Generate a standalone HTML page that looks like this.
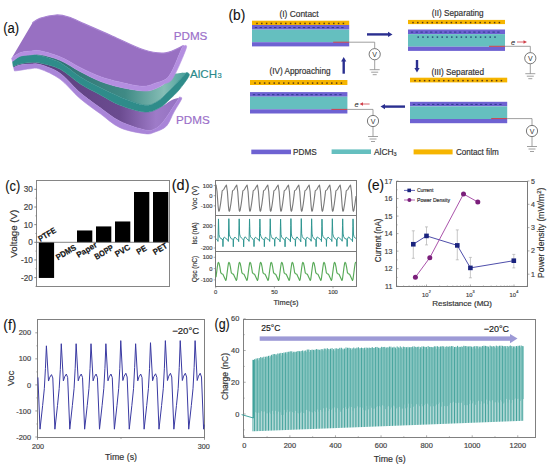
<!DOCTYPE html><html><head><meta charset="utf-8"><style>html,body{margin:0;padding:0;background:#fff;width:550px;height:467px;overflow:hidden}svg{display:block}text{font-family:"Liberation Sans",sans-serif}</style></head><body>
<svg width="550" height="467" viewBox="0 0 550 467">
<rect width="550" height="467" fill="#fff"/>
<defs>
<linearGradient id="tealg" x1="60" y1="0" x2="190" y2="0" gradientUnits="userSpaceOnUse">
<stop offset="0" stop-color="#2f7474"/><stop offset="0.5" stop-color="#3f8a85"/><stop offset="0.8" stop-color="#86beb6"/><stop offset="0.92" stop-color="#5aa8a2"/><stop offset="1" stop-color="#3a9a96"/></linearGradient>
<linearGradient id="botg" x1="40" y1="0" x2="185" y2="0" gradientUnits="userSpaceOnUse">
<stop offset="0" stop-color="#5a3e7c"/><stop offset="0.55" stop-color="#6b4b90"/><stop offset="0.8" stop-color="#9e7bc8"/><stop offset="1" stop-color="#9270c0"/></linearGradient>
</defs>
<path d="M13.20,66.50 C14.33,66.08 17.20,64.65 20.00,64.00 C22.80,63.35 26.67,62.77 30.00,62.60 C33.33,62.43 35.00,61.92 40.00,63.00 C45.00,64.08 53.33,65.63 60.00,69.10 C66.67,72.57 73.33,79.53 80.00,83.80 C86.67,88.07 93.33,91.13 100.00,94.70 C106.67,98.27 112.50,102.32 120.00,105.20 C127.50,108.08 138.33,111.62 145.00,112.00 C151.67,112.38 155.67,109.42 160.00,107.50 C164.33,105.58 167.73,102.15 171.00,100.50 C174.27,98.85 178.17,98.08 179.60,97.60 L179.60,97.60 C179.42,97.80 181.17,94.85 178.50,98.80 C175.83,102.75 167.52,116.30 163.60,121.30 C159.68,126.30 158.10,127.35 155.00,128.80 C151.90,130.25 150.83,131.25 145.00,130.00 C139.17,128.75 127.50,125.03 120.00,121.30 C112.50,117.57 106.67,112.38 100.00,107.60 C93.33,102.82 86.67,98.33 80.00,92.60 C73.33,86.87 66.67,77.88 60.00,73.20 C53.33,68.52 45.00,66.03 40.00,64.50 C35.00,62.97 33.33,63.92 30.00,64.00 C26.67,64.08 22.73,64.42 20.00,65.00 C17.27,65.58 14.67,67.08 13.60,67.50 Z" fill="url(#botg)"/>
<path d="M13.60,67.50 C14.67,67.08 17.27,65.58 20.00,65.00 C22.73,64.42 26.67,64.08 30.00,64.00 C33.33,63.92 35.00,62.97 40.00,64.50 C45.00,66.03 53.33,68.52 60.00,73.20 C66.67,77.88 73.33,86.87 80.00,92.60 C86.67,98.33 93.33,102.82 100.00,107.60 C106.67,112.38 112.50,117.57 120.00,121.30 C127.50,125.03 139.17,128.75 145.00,130.00 C150.83,131.25 151.90,130.25 155.00,128.80 C158.10,127.35 159.68,126.30 163.60,121.30 C167.52,116.30 175.83,102.75 178.50,98.80 C181.17,94.85 179.42,97.80 179.60,97.60 L179.60,97.60 C179.93,97.83 182.53,96.60 181.60,99.00 C180.67,101.40 176.52,107.50 174.00,112.00 C171.48,116.50 169.67,122.67 166.50,126.00 C163.33,129.33 158.58,130.72 155.00,132.00 C151.42,133.28 150.83,134.42 145.00,133.70 C139.17,132.98 127.50,131.07 120.00,127.70 C112.50,124.33 106.67,118.37 100.00,113.50 C93.33,108.63 86.67,104.23 80.00,98.50 C73.33,92.77 66.67,84.02 60.00,79.10 C53.33,74.18 45.00,70.72 40.00,69.00 C35.00,67.28 33.33,68.58 30.00,68.80 C26.67,69.02 22.58,69.93 20.00,70.30 C17.42,70.67 15.42,70.88 14.50,71.00 Z" fill="#a985d8" stroke="#a985d8" stroke-width="0.6" stroke-linejoin="round"/>
<path d="M12.50,61.50 C13.75,60.63 17.08,57.40 20.00,56.30 C22.92,55.20 26.67,55.18 30.00,54.90 C33.33,54.62 35.00,53.70 40.00,54.60 C45.00,55.50 53.33,57.48 60.00,60.30 C66.67,63.12 73.33,68.02 80.00,71.50 C86.67,74.98 93.33,78.58 100.00,81.20 C106.67,83.82 112.50,85.57 120.00,87.20 C127.50,88.83 138.83,90.87 145.00,91.00 C151.17,91.13 153.83,89.17 157.00,88.00 C160.17,86.83 162.00,85.67 164.00,84.00 C166.00,82.33 167.00,79.73 169.00,78.00 C171.00,76.27 172.97,74.53 176.00,73.60 C179.03,72.67 185.33,72.60 187.20,72.40 L187.20,72.40 C186.92,72.62 187.53,71.60 185.50,73.70 C183.47,75.80 178.25,81.62 175.00,85.00 C171.75,88.38 168.83,91.33 166.00,94.00 C163.17,96.67 161.50,99.13 158.00,101.00 C154.50,102.87 151.33,105.88 145.00,105.20 C138.67,104.52 127.50,99.83 120.00,96.90 C112.50,93.97 106.67,90.95 100.00,87.60 C93.33,84.25 86.67,80.97 80.00,76.80 C73.33,72.63 66.67,66.15 60.00,62.60 C53.33,59.05 45.00,56.78 40.00,55.50 C35.00,54.22 33.33,54.77 30.00,54.90 C26.67,55.03 22.92,55.20 20.00,56.30 C17.08,57.40 13.75,60.63 12.50,61.50 Z" fill="url(#tealg)"/>
<path d="M12.50,61.50 C13.75,60.63 17.08,57.40 20.00,56.30 C22.92,55.20 26.67,55.03 30.00,54.90 C33.33,54.77 35.00,54.22 40.00,55.50 C45.00,56.78 53.33,59.05 60.00,62.60 C66.67,66.15 73.33,72.63 80.00,76.80 C86.67,80.97 93.33,84.25 100.00,87.60 C106.67,90.95 112.50,93.97 120.00,96.90 C127.50,99.83 138.67,104.52 145.00,105.20 C151.33,105.88 154.50,102.87 158.00,101.00 C161.50,99.13 163.17,96.67 166.00,94.00 C168.83,91.33 171.75,88.38 175.00,85.00 C178.25,81.62 183.47,75.80 185.50,73.70 C187.53,71.60 186.92,72.62 187.20,72.40 L187.20,72.40 C187.50,73.00 190.37,73.07 189.00,76.00 C187.63,78.93 182.17,86.17 179.00,90.00 C175.83,93.83 173.17,96.08 170.00,99.00 C166.83,101.92 164.17,105.33 160.00,107.50 C155.83,109.67 151.67,112.38 145.00,112.00 C138.33,111.62 127.50,108.08 120.00,105.20 C112.50,102.32 106.67,98.27 100.00,94.70 C93.33,91.13 86.67,88.07 80.00,83.80 C73.33,79.53 66.67,72.57 60.00,69.10 C53.33,65.63 45.00,64.08 40.00,63.00 C35.00,61.92 33.33,62.43 30.00,62.60 C26.67,62.77 22.80,63.35 20.00,64.00 C17.20,64.65 14.33,66.08 13.20,66.50 Z" fill="#2f8c8a" stroke="#2f8c8a" stroke-width="0.6" stroke-linejoin="round"/>
<path d="M32.40,23.00 C33.67,22.22 36.07,19.63 40.00,18.30 C43.93,16.97 51.23,15.22 56.00,15.00 C60.77,14.78 63.77,15.48 68.60,17.00 C73.43,18.52 77.65,20.90 85.00,24.10 C92.35,27.30 102.93,31.92 112.70,36.20 C122.47,40.48 134.83,47.02 143.60,49.80 C152.37,52.58 158.63,53.60 165.30,52.90 C171.97,52.20 180.55,46.82 183.60,45.60 L183.40,46.00 C183.12,46.42 184.10,43.50 181.70,48.50 C179.30,53.50 173.45,70.22 169.00,76.00 C164.55,81.78 159.50,81.48 155.00,83.20 C150.50,84.92 147.83,86.48 142.00,86.30 C136.17,86.12 127.00,83.73 120.00,82.10 C113.00,80.47 106.67,78.95 100.00,76.50 C93.33,74.05 86.67,70.68 80.00,67.40 C73.33,64.12 66.67,59.57 60.00,56.80 C53.33,54.03 45.00,51.75 40.00,50.80 C35.00,49.85 33.33,50.77 30.00,51.10 C26.67,51.43 23.07,51.62 20.00,52.80 C16.93,53.98 13.00,57.30 11.60,58.20 Z" fill="#9870c2"/>
<path d="M32.40,23.00 C33.67,22.22 36.07,19.63 40.00,18.30 C43.93,16.97 51.23,15.22 56.00,15.00 C60.77,14.78 63.77,15.48 68.60,17.00 C73.43,18.52 77.65,20.90 85.00,24.10 C92.35,27.30 102.93,31.92 112.70,36.20 C122.47,40.48 134.83,47.02 143.60,49.80 C152.37,52.58 158.63,53.60 165.30,52.90 C171.97,52.20 180.55,46.82 183.60,45.60" fill="none" stroke="#a883d2" stroke-width="1.2"/>
<path d="M11.60,58.20 C13.00,57.30 16.93,53.98 20.00,52.80 C23.07,51.62 26.67,51.43 30.00,51.10 C33.33,50.77 35.00,49.85 40.00,50.80 C45.00,51.75 53.33,54.03 60.00,56.80 C66.67,59.57 73.33,64.12 80.00,67.40 C86.67,70.68 93.33,74.05 100.00,76.50 C106.67,78.95 113.00,80.47 120.00,82.10 C127.00,83.73 136.17,86.12 142.00,86.30 C147.83,86.48 150.50,84.92 155.00,83.20 C159.50,81.48 164.55,81.78 169.00,76.00 C173.45,70.22 179.30,53.50 181.70,48.50 C184.10,43.50 183.12,46.42 183.40,46.00 L183.40,46.00 C183.87,46.42 187.93,43.17 186.20,48.50 C184.47,53.83 176.70,72.08 173.00,78.00 C169.30,83.92 166.67,82.33 164.00,84.00 C161.33,85.67 160.17,86.83 157.00,88.00 C153.83,89.17 151.17,91.13 145.00,91.00 C138.83,90.87 127.50,88.83 120.00,87.20 C112.50,85.57 106.67,83.82 100.00,81.20 C93.33,78.58 86.67,74.98 80.00,71.50 C73.33,68.02 66.67,63.12 60.00,60.30 C53.33,57.48 45.00,55.50 40.00,54.60 C35.00,53.70 33.33,54.62 30.00,54.90 C26.67,55.18 22.92,55.20 20.00,56.30 C17.08,57.40 13.75,60.63 12.50,61.50 Z" fill="#b48ee0" stroke="#b48ee0" stroke-width="0.6" stroke-linejoin="round"/>
<text x="173.7" y="40.4" font-size="11.6" fill="#9b6fc9" text-anchor="start" font-weight="normal" stroke="#9b6fc9" stroke-width="0.18" textLength="33.7" lengthAdjust="spacingAndGlyphs" >PDMS</text>
<text x="190" y="77.7" font-size="11.6" fill="#2b8a8a" text-anchor="start" font-weight="normal" stroke="#2b8a8a" stroke-width="0.18" textLength="27" lengthAdjust="spacingAndGlyphs" >AlCH</text>
<text x="217.5" y="78" font-size="7.5" fill="#2b8a8a" text-anchor="start" font-weight="normal" stroke="#2b8a8a" stroke-width="0.18" >3</text>
<text x="176" y="124" font-size="11.6" fill="#9b6fc9" text-anchor="start" font-weight="normal" stroke="#9b6fc9" stroke-width="0.18" textLength="33.7" lengthAdjust="spacingAndGlyphs" >PDMS</text>
<text x="3.2" y="32.8" font-size="15.2" fill="#111" text-anchor="start" font-weight="normal" textLength="16" lengthAdjust="spacingAndGlyphs" stroke="#111" stroke-width="0.12">(a)</text>
<text x="228.5" y="20.1" font-size="15.2" fill="#111" text-anchor="start" font-weight="normal" textLength="16.8" lengthAdjust="spacingAndGlyphs" stroke="#111" stroke-width="0.12">(b)</text>
<rect x="252" y="20.7" width="97.19999999999999" height="4.3" fill="#f6b500"/>
<rect x="256.25" y="22.70" width="1.5" height="1.5" fill="#5a3a12"/>
<rect x="261.05" y="22.70" width="1.5" height="1.5" fill="#5a3a12"/>
<rect x="265.85" y="22.70" width="1.5" height="1.5" fill="#5a3a12"/>
<rect x="270.65" y="22.70" width="1.5" height="1.5" fill="#5a3a12"/>
<rect x="275.45" y="22.70" width="1.5" height="1.5" fill="#5a3a12"/>
<rect x="280.25" y="22.70" width="1.5" height="1.5" fill="#5a3a12"/>
<rect x="285.05" y="22.70" width="1.5" height="1.5" fill="#5a3a12"/>
<rect x="289.85" y="22.70" width="1.5" height="1.5" fill="#5a3a12"/>
<rect x="294.65" y="22.70" width="1.5" height="1.5" fill="#5a3a12"/>
<rect x="299.45" y="22.70" width="1.5" height="1.5" fill="#5a3a12"/>
<rect x="304.25" y="22.70" width="1.5" height="1.5" fill="#5a3a12"/>
<rect x="309.05" y="22.70" width="1.5" height="1.5" fill="#5a3a12"/>
<rect x="313.85" y="22.70" width="1.5" height="1.5" fill="#5a3a12"/>
<rect x="318.65" y="22.70" width="1.5" height="1.5" fill="#5a3a12"/>
<rect x="323.45" y="22.70" width="1.5" height="1.5" fill="#5a3a12"/>
<rect x="328.25" y="22.70" width="1.5" height="1.5" fill="#5a3a12"/>
<rect x="333.05" y="22.70" width="1.5" height="1.5" fill="#5a3a12"/>
<rect x="337.85" y="22.70" width="1.5" height="1.5" fill="#5a3a12"/>
<rect x="342.65" y="22.70" width="1.5" height="1.5" fill="#5a3a12"/>
<rect x="252" y="25.0" width="97.19999999999999" height="4.6" fill="#6e62d2"/>
<rect x="252" y="29.6" width="97.19999999999999" height="12.6" fill="#65bfbf"/>
<rect x="252" y="42.2" width="97.19999999999999" height="4.2" fill="#6e62d2"/>
<rect x="254.80" y="27.10" width="2.4" height="1.0" fill="#2b3a8c"/>
<rect x="259.60" y="27.10" width="2.4" height="1.0" fill="#2b3a8c"/>
<rect x="264.40" y="27.10" width="2.4" height="1.0" fill="#2b3a8c"/>
<rect x="269.20" y="27.10" width="2.4" height="1.0" fill="#2b3a8c"/>
<rect x="274.00" y="27.10" width="2.4" height="1.0" fill="#2b3a8c"/>
<rect x="278.80" y="27.10" width="2.4" height="1.0" fill="#2b3a8c"/>
<rect x="283.60" y="27.10" width="2.4" height="1.0" fill="#2b3a8c"/>
<rect x="288.40" y="27.10" width="2.4" height="1.0" fill="#2b3a8c"/>
<rect x="293.20" y="27.10" width="2.4" height="1.0" fill="#2b3a8c"/>
<rect x="298.00" y="27.10" width="2.4" height="1.0" fill="#2b3a8c"/>
<rect x="302.80" y="27.10" width="2.4" height="1.0" fill="#2b3a8c"/>
<rect x="307.60" y="27.10" width="2.4" height="1.0" fill="#2b3a8c"/>
<rect x="312.40" y="27.10" width="2.4" height="1.0" fill="#2b3a8c"/>
<rect x="317.20" y="27.10" width="2.4" height="1.0" fill="#2b3a8c"/>
<rect x="322.00" y="27.10" width="2.4" height="1.0" fill="#2b3a8c"/>
<rect x="326.80" y="27.10" width="2.4" height="1.0" fill="#2b3a8c"/>
<rect x="331.60" y="27.10" width="2.4" height="1.0" fill="#2b3a8c"/>
<rect x="336.40" y="27.10" width="2.4" height="1.0" fill="#2b3a8c"/>
<rect x="341.20" y="27.10" width="2.4" height="1.0" fill="#2b3a8c"/>
<line x1="333.2" y1="42.2" x2="349.2" y2="42.2" stroke="#d0404a" stroke-width="1"/>
<polyline points="349.2,42.2 374.7,42.2 374.7,48.6" fill="none" stroke="#888" stroke-width="0.8"/>
<circle cx="374.7" cy="54.2" r="5.6" fill="#fff" stroke="#555" stroke-width="0.8"/>
<text x="374.7" y="56.800000000000004" font-size="7" fill="#333" text-anchor="middle">V</text>
<line x1="374.7" y1="59.800000000000004" x2="374.7" y2="69.7" stroke="#888" stroke-width="0.8"/>
<line x1="369.7" y1="69.7" x2="379.7" y2="69.7" stroke="#888" stroke-width="0.8"/>
<line x1="371.2" y1="72.2" x2="378.2" y2="72.2" stroke="#888" stroke-width="0.8"/>
<line x1="372.7" y1="74.7" x2="376.7" y2="74.7" stroke="#888" stroke-width="0.8"/>
<text x="279.4" y="16.8" font-size="8.4" fill="#333" text-anchor="start" font-weight="normal" stroke="#333" stroke-width="0.18" textLength="39.2" lengthAdjust="spacingAndGlyphs" >(I) Contact</text>
<rect x="408" y="19.9" width="97" height="4.2" fill="#f6b500"/>
<rect x="412.25" y="21.85" width="1.5" height="1.5" fill="#5a3a12"/>
<rect x="417.05" y="21.85" width="1.5" height="1.5" fill="#5a3a12"/>
<rect x="421.85" y="21.85" width="1.5" height="1.5" fill="#5a3a12"/>
<rect x="426.65" y="21.85" width="1.5" height="1.5" fill="#5a3a12"/>
<rect x="431.45" y="21.85" width="1.5" height="1.5" fill="#5a3a12"/>
<rect x="436.25" y="21.85" width="1.5" height="1.5" fill="#5a3a12"/>
<rect x="441.05" y="21.85" width="1.5" height="1.5" fill="#5a3a12"/>
<rect x="445.85" y="21.85" width="1.5" height="1.5" fill="#5a3a12"/>
<rect x="450.65" y="21.85" width="1.5" height="1.5" fill="#5a3a12"/>
<rect x="455.45" y="21.85" width="1.5" height="1.5" fill="#5a3a12"/>
<rect x="460.25" y="21.85" width="1.5" height="1.5" fill="#5a3a12"/>
<rect x="465.05" y="21.85" width="1.5" height="1.5" fill="#5a3a12"/>
<rect x="469.85" y="21.85" width="1.5" height="1.5" fill="#5a3a12"/>
<rect x="474.65" y="21.85" width="1.5" height="1.5" fill="#5a3a12"/>
<rect x="479.45" y="21.85" width="1.5" height="1.5" fill="#5a3a12"/>
<rect x="484.25" y="21.85" width="1.5" height="1.5" fill="#5a3a12"/>
<rect x="489.05" y="21.85" width="1.5" height="1.5" fill="#5a3a12"/>
<rect x="493.85" y="21.85" width="1.5" height="1.5" fill="#5a3a12"/>
<rect x="498.65" y="21.85" width="1.5" height="1.5" fill="#5a3a12"/>
<rect x="408" y="29.5" width="97" height="4.6" fill="#6e62d2"/>
<rect x="408" y="34.1" width="97" height="12.6" fill="#65bfbf"/>
<rect x="408" y="46.7" width="97" height="4.2" fill="#6e62d2"/>
<rect x="410.80" y="31.60" width="2.4" height="1.0" fill="#2b3a8c"/>
<rect x="415.60" y="31.60" width="2.4" height="1.0" fill="#2b3a8c"/>
<rect x="420.40" y="31.60" width="2.4" height="1.0" fill="#2b3a8c"/>
<rect x="425.20" y="31.60" width="2.4" height="1.0" fill="#2b3a8c"/>
<rect x="430.00" y="31.60" width="2.4" height="1.0" fill="#2b3a8c"/>
<rect x="434.80" y="31.60" width="2.4" height="1.0" fill="#2b3a8c"/>
<rect x="439.60" y="31.60" width="2.4" height="1.0" fill="#2b3a8c"/>
<rect x="444.40" y="31.60" width="2.4" height="1.0" fill="#2b3a8c"/>
<rect x="449.20" y="31.60" width="2.4" height="1.0" fill="#2b3a8c"/>
<rect x="454.00" y="31.60" width="2.4" height="1.0" fill="#2b3a8c"/>
<rect x="458.80" y="31.60" width="2.4" height="1.0" fill="#2b3a8c"/>
<rect x="463.60" y="31.60" width="2.4" height="1.0" fill="#2b3a8c"/>
<rect x="468.40" y="31.60" width="2.4" height="1.0" fill="#2b3a8c"/>
<rect x="473.20" y="31.60" width="2.4" height="1.0" fill="#2b3a8c"/>
<rect x="478.00" y="31.60" width="2.4" height="1.0" fill="#2b3a8c"/>
<rect x="482.80" y="31.60" width="2.4" height="1.0" fill="#2b3a8c"/>
<rect x="487.60" y="31.60" width="2.4" height="1.0" fill="#2b3a8c"/>
<rect x="492.40" y="31.60" width="2.4" height="1.0" fill="#2b3a8c"/>
<rect x="497.20" y="31.60" width="2.4" height="1.0" fill="#2b3a8c"/>
<rect x="417.45" y="36.35" width="1.5" height="1.5" fill="#2b4a7a"/>
<rect x="422.25" y="36.35" width="1.5" height="1.5" fill="#2b4a7a"/>
<rect x="427.05" y="36.35" width="1.5" height="1.5" fill="#2b4a7a"/>
<rect x="431.85" y="36.35" width="1.5" height="1.5" fill="#2b4a7a"/>
<rect x="436.65" y="36.35" width="1.5" height="1.5" fill="#2b4a7a"/>
<rect x="441.45" y="36.35" width="1.5" height="1.5" fill="#2b4a7a"/>
<rect x="446.25" y="36.35" width="1.5" height="1.5" fill="#2b4a7a"/>
<rect x="451.05" y="36.35" width="1.5" height="1.5" fill="#2b4a7a"/>
<rect x="455.85" y="36.35" width="1.5" height="1.5" fill="#2b4a7a"/>
<rect x="460.65" y="36.35" width="1.5" height="1.5" fill="#2b4a7a"/>
<rect x="465.45" y="36.35" width="1.5" height="1.5" fill="#2b4a7a"/>
<rect x="470.25" y="36.35" width="1.5" height="1.5" fill="#2b4a7a"/>
<rect x="475.05" y="36.35" width="1.5" height="1.5" fill="#2b4a7a"/>
<rect x="479.85" y="36.35" width="1.5" height="1.5" fill="#2b4a7a"/>
<rect x="484.65" y="36.35" width="1.5" height="1.5" fill="#2b4a7a"/>
<rect x="489.45" y="36.35" width="1.5" height="1.5" fill="#2b4a7a"/>
<rect x="494.25" y="36.35" width="1.5" height="1.5" fill="#2b4a7a"/>
<line x1="489" y1="46.3" x2="505" y2="46.3" stroke="#d0404a" stroke-width="1"/>
<polyline points="505,46.3 530.3,46.3 530.3,52.6" fill="none" stroke="#888" stroke-width="0.8"/>
<circle cx="530.3" cy="58.2" r="5.6" fill="#fff" stroke="#555" stroke-width="0.8"/>
<text x="530.3" y="60.800000000000004" font-size="7" fill="#333" text-anchor="middle">V</text>
<line x1="530.3" y1="63.800000000000004" x2="530.3" y2="73.7" stroke="#888" stroke-width="0.8"/>
<line x1="525.3" y1="73.7" x2="535.3" y2="73.7" stroke="#888" stroke-width="0.8"/>
<line x1="526.8" y1="76.2" x2="533.8" y2="76.2" stroke="#888" stroke-width="0.8"/>
<line x1="528.3" y1="78.7" x2="532.3" y2="78.7" stroke="#888" stroke-width="0.8"/>
<text x="431.7" y="16.3" font-size="8.4" fill="#333" text-anchor="start" font-weight="normal" stroke="#333" stroke-width="0.18" textLength="52" lengthAdjust="spacingAndGlyphs" >(II) Separating</text>
<rect x="410" y="77.7" width="97.19999999999999" height="4.7" fill="#f6b500"/>
<rect x="414.25" y="79.90" width="1.5" height="1.5" fill="#5a3a12"/>
<rect x="419.05" y="79.90" width="1.5" height="1.5" fill="#5a3a12"/>
<rect x="423.85" y="79.90" width="1.5" height="1.5" fill="#5a3a12"/>
<rect x="428.65" y="79.90" width="1.5" height="1.5" fill="#5a3a12"/>
<rect x="433.45" y="79.90" width="1.5" height="1.5" fill="#5a3a12"/>
<rect x="438.25" y="79.90" width="1.5" height="1.5" fill="#5a3a12"/>
<rect x="443.05" y="79.90" width="1.5" height="1.5" fill="#5a3a12"/>
<rect x="447.85" y="79.90" width="1.5" height="1.5" fill="#5a3a12"/>
<rect x="452.65" y="79.90" width="1.5" height="1.5" fill="#5a3a12"/>
<rect x="457.45" y="79.90" width="1.5" height="1.5" fill="#5a3a12"/>
<rect x="462.25" y="79.90" width="1.5" height="1.5" fill="#5a3a12"/>
<rect x="467.05" y="79.90" width="1.5" height="1.5" fill="#5a3a12"/>
<rect x="471.85" y="79.90" width="1.5" height="1.5" fill="#5a3a12"/>
<rect x="476.65" y="79.90" width="1.5" height="1.5" fill="#5a3a12"/>
<rect x="481.45" y="79.90" width="1.5" height="1.5" fill="#5a3a12"/>
<rect x="486.25" y="79.90" width="1.5" height="1.5" fill="#5a3a12"/>
<rect x="491.05" y="79.90" width="1.5" height="1.5" fill="#5a3a12"/>
<rect x="495.85" y="79.90" width="1.5" height="1.5" fill="#5a3a12"/>
<rect x="500.65" y="79.90" width="1.5" height="1.5" fill="#5a3a12"/>
<rect x="410" y="101.8" width="97.19999999999999" height="4.6" fill="#6e62d2"/>
<rect x="410" y="106.39999999999999" width="97.19999999999999" height="12.6" fill="#65bfbf"/>
<rect x="410" y="119.0" width="97.19999999999999" height="4.2" fill="#6e62d2"/>
<rect x="412.80" y="103.90" width="2.4" height="1.0" fill="#2b3a8c"/>
<rect x="417.60" y="103.90" width="2.4" height="1.0" fill="#2b3a8c"/>
<rect x="422.40" y="103.90" width="2.4" height="1.0" fill="#2b3a8c"/>
<rect x="427.20" y="103.90" width="2.4" height="1.0" fill="#2b3a8c"/>
<rect x="432.00" y="103.90" width="2.4" height="1.0" fill="#2b3a8c"/>
<rect x="436.80" y="103.90" width="2.4" height="1.0" fill="#2b3a8c"/>
<rect x="441.60" y="103.90" width="2.4" height="1.0" fill="#2b3a8c"/>
<rect x="446.40" y="103.90" width="2.4" height="1.0" fill="#2b3a8c"/>
<rect x="451.20" y="103.90" width="2.4" height="1.0" fill="#2b3a8c"/>
<rect x="456.00" y="103.90" width="2.4" height="1.0" fill="#2b3a8c"/>
<rect x="460.80" y="103.90" width="2.4" height="1.0" fill="#2b3a8c"/>
<rect x="465.60" y="103.90" width="2.4" height="1.0" fill="#2b3a8c"/>
<rect x="470.40" y="103.90" width="2.4" height="1.0" fill="#2b3a8c"/>
<rect x="475.20" y="103.90" width="2.4" height="1.0" fill="#2b3a8c"/>
<rect x="480.00" y="103.90" width="2.4" height="1.0" fill="#2b3a8c"/>
<rect x="484.80" y="103.90" width="2.4" height="1.0" fill="#2b3a8c"/>
<rect x="489.60" y="103.90" width="2.4" height="1.0" fill="#2b3a8c"/>
<rect x="494.40" y="103.90" width="2.4" height="1.0" fill="#2b3a8c"/>
<rect x="499.20" y="103.90" width="2.4" height="1.0" fill="#2b3a8c"/>
<line x1="491.2" y1="118.6" x2="507.2" y2="118.6" stroke="#d0404a" stroke-width="1"/>
<polyline points="507.2,118.6 532,118.6 532,125.4" fill="none" stroke="#888" stroke-width="0.8"/>
<circle cx="532" cy="131" r="5.6" fill="#fff" stroke="#555" stroke-width="0.8"/>
<text x="532" y="133.6" font-size="7" fill="#333" text-anchor="middle">V</text>
<line x1="532" y1="136.6" x2="532" y2="146.5" stroke="#888" stroke-width="0.8"/>
<line x1="527" y1="146.5" x2="537" y2="146.5" stroke="#888" stroke-width="0.8"/>
<line x1="528.5" y1="149.0" x2="535.5" y2="149.0" stroke="#888" stroke-width="0.8"/>
<line x1="530" y1="151.5" x2="534" y2="151.5" stroke="#888" stroke-width="0.8"/>
<text x="431.4" y="75" font-size="8.4" fill="#333" text-anchor="start" font-weight="normal" stroke="#333" stroke-width="0.18" textLength="52.6" lengthAdjust="spacingAndGlyphs" >(III) Separated</text>
<rect x="250" y="80" width="97.39999999999998" height="5" fill="#f6b500"/>
<rect x="254.25" y="82.35" width="1.5" height="1.5" fill="#5a3a12"/>
<rect x="259.05" y="82.35" width="1.5" height="1.5" fill="#5a3a12"/>
<rect x="263.85" y="82.35" width="1.5" height="1.5" fill="#5a3a12"/>
<rect x="268.65" y="82.35" width="1.5" height="1.5" fill="#5a3a12"/>
<rect x="273.45" y="82.35" width="1.5" height="1.5" fill="#5a3a12"/>
<rect x="278.25" y="82.35" width="1.5" height="1.5" fill="#5a3a12"/>
<rect x="283.05" y="82.35" width="1.5" height="1.5" fill="#5a3a12"/>
<rect x="287.85" y="82.35" width="1.5" height="1.5" fill="#5a3a12"/>
<rect x="292.65" y="82.35" width="1.5" height="1.5" fill="#5a3a12"/>
<rect x="297.45" y="82.35" width="1.5" height="1.5" fill="#5a3a12"/>
<rect x="302.25" y="82.35" width="1.5" height="1.5" fill="#5a3a12"/>
<rect x="307.05" y="82.35" width="1.5" height="1.5" fill="#5a3a12"/>
<rect x="311.85" y="82.35" width="1.5" height="1.5" fill="#5a3a12"/>
<rect x="316.65" y="82.35" width="1.5" height="1.5" fill="#5a3a12"/>
<rect x="321.45" y="82.35" width="1.5" height="1.5" fill="#5a3a12"/>
<rect x="326.25" y="82.35" width="1.5" height="1.5" fill="#5a3a12"/>
<rect x="331.05" y="82.35" width="1.5" height="1.5" fill="#5a3a12"/>
<rect x="335.85" y="82.35" width="1.5" height="1.5" fill="#5a3a12"/>
<rect x="340.65" y="82.35" width="1.5" height="1.5" fill="#5a3a12"/>
<rect x="250" y="92.1" width="97.39999999999998" height="4.6" fill="#6e62d2"/>
<rect x="250" y="96.69999999999999" width="97.39999999999998" height="12.6" fill="#65bfbf"/>
<rect x="250" y="109.3" width="97.39999999999998" height="4.2" fill="#6e62d2"/>
<rect x="252.80" y="94.20" width="2.4" height="1.0" fill="#2b3a8c"/>
<rect x="257.60" y="94.20" width="2.4" height="1.0" fill="#2b3a8c"/>
<rect x="262.40" y="94.20" width="2.4" height="1.0" fill="#2b3a8c"/>
<rect x="267.20" y="94.20" width="2.4" height="1.0" fill="#2b3a8c"/>
<rect x="272.00" y="94.20" width="2.4" height="1.0" fill="#2b3a8c"/>
<rect x="276.80" y="94.20" width="2.4" height="1.0" fill="#2b3a8c"/>
<rect x="281.60" y="94.20" width="2.4" height="1.0" fill="#2b3a8c"/>
<rect x="286.40" y="94.20" width="2.4" height="1.0" fill="#2b3a8c"/>
<rect x="291.20" y="94.20" width="2.4" height="1.0" fill="#2b3a8c"/>
<rect x="296.00" y="94.20" width="2.4" height="1.0" fill="#2b3a8c"/>
<rect x="300.80" y="94.20" width="2.4" height="1.0" fill="#2b3a8c"/>
<rect x="305.60" y="94.20" width="2.4" height="1.0" fill="#2b3a8c"/>
<rect x="310.40" y="94.20" width="2.4" height="1.0" fill="#2b3a8c"/>
<rect x="315.20" y="94.20" width="2.4" height="1.0" fill="#2b3a8c"/>
<rect x="320.00" y="94.20" width="2.4" height="1.0" fill="#2b3a8c"/>
<rect x="324.80" y="94.20" width="2.4" height="1.0" fill="#2b3a8c"/>
<rect x="329.60" y="94.20" width="2.4" height="1.0" fill="#2b3a8c"/>
<rect x="334.40" y="94.20" width="2.4" height="1.0" fill="#2b3a8c"/>
<rect x="339.20" y="94.20" width="2.4" height="1.0" fill="#2b3a8c"/>
<line x1="331.4" y1="109.4" x2="347.4" y2="109.4" stroke="#d0404a" stroke-width="1"/>
<polyline points="347.4,109.4 373,109.4 373,115.4" fill="none" stroke="#888" stroke-width="0.8"/>
<circle cx="373" cy="121" r="5.6" fill="#fff" stroke="#555" stroke-width="0.8"/>
<text x="373" y="123.6" font-size="7" fill="#333" text-anchor="middle">V</text>
<line x1="373" y1="126.6" x2="373" y2="136.5" stroke="#888" stroke-width="0.8"/>
<line x1="368" y1="136.5" x2="378" y2="136.5" stroke="#888" stroke-width="0.8"/>
<line x1="369.5" y1="139.0" x2="376.5" y2="139.0" stroke="#888" stroke-width="0.8"/>
<line x1="371" y1="141.5" x2="375" y2="141.5" stroke="#888" stroke-width="0.8"/>
<text x="269.4" y="73.6" font-size="8.4" fill="#333" text-anchor="start" font-weight="normal" stroke="#333" stroke-width="0.18" textLength="61.2" lengthAdjust="spacingAndGlyphs" >(IV) Approaching</text>
<text x="511" y="44.5" font-size="7.5" font-style="italic" fill="#222">e</text>
<line x1="517" y1="42" x2="524" y2="42" stroke="#d0404a" stroke-width="0.8"/><path d="M527,42 L523.5,40.3 L523.5,43.7 Z" fill="#d0404a"/>
<text x="354.4" y="106.5" font-size="7.5" font-style="italic" fill="#222">e</text>
<line x1="362.5" y1="104" x2="369.6" y2="104" stroke="#d0404a" stroke-width="0.8"/><path d="M359.5,104 L363,102.3 L363,105.7 Z" fill="#d0404a"/>
<line x1="367" y1="34.4" x2="389" y2="34.4" stroke="#2a2f90" stroke-width="2.4"/><path d="M392.5,34.4 L388,31.8 L388,37 Z" fill="#2a2f90"/>
<line x1="417" y1="60" x2="417" y2="69" stroke="#2a2f90" stroke-width="2.4"/><path d="M417,72.5 L414.4,68 L419.6,68 Z" fill="#2a2f90"/>
<line x1="384" y1="106.6" x2="405" y2="106.6" stroke="#2a2f90" stroke-width="2.4"/><path d="M380.5,106.6 L385,104 L385,109.2 Z" fill="#2a2f90"/>
<line x1="343.7" y1="61" x2="343.7" y2="73.7" stroke="#2a2f90" stroke-width="2.4"/><path d="M343.7,57 L341.1,61.5 L346.3,61.5 Z" fill="#2a2f90"/>
<rect x="251.3" y="149.6" width="39.7" height="4.6" fill="#6e62d2"/>
<text x="293" y="155" font-size="8.4" fill="#333" text-anchor="start" font-weight="normal" stroke="#333" stroke-width="0.18" textLength="23.7" lengthAdjust="spacingAndGlyphs" >PDMS</text>
<rect x="331.6" y="149.4" width="39.4" height="4.6" fill="#65bfbf"/>
<text x="374" y="155" font-size="8.4" fill="#333" text-anchor="start" font-weight="normal" stroke="#333" stroke-width="0.18" textLength="19.5" lengthAdjust="spacingAndGlyphs" >AlCH</text>
<text x="393.6" y="155.5" font-size="5.5" fill="#333" text-anchor="start" font-weight="normal" stroke="#333" stroke-width="0.18" >3</text>
<rect x="413.6" y="149.4" width="39" height="5" fill="#f6b500"/>
<text x="456" y="155" font-size="8.4" fill="#333" text-anchor="start" font-weight="normal" stroke="#333" stroke-width="0.18" textLength="42.7" lengthAdjust="spacingAndGlyphs" >Contact film</text>
<text x="5.2" y="190.8" font-size="15.2" fill="#111" text-anchor="start" font-weight="normal" textLength="15" lengthAdjust="spacingAndGlyphs" stroke="#111" stroke-width="0.12">(c)</text>
<rect x="36.5" y="180.5" width="133.0" height="106.0" fill="none" stroke="#858585" stroke-width="1"/>
<rect x="38.8" y="242.30" width="15.3" height="35.65" fill="#000"/>
<rect x="77" y="230.47" width="15.3" height="11.83" fill="#000"/>
<rect x="96" y="226.42" width="15.3" height="15.88" fill="#000"/>
<rect x="115" y="221.47" width="15.3" height="20.83" fill="#000"/>
<rect x="134" y="192.00" width="15.3" height="50.30" fill="#000"/>
<rect x="153" y="192.00" width="15.3" height="50.30" fill="#000"/>
<line x1="36.5" y1="242.3" x2="169.5" y2="242.3" stroke="#666" stroke-width="0.8"/>
<line x1="34.3" y1="189.35" x2="36.5" y2="189.35" stroke="#666" stroke-width="0.8"/>
<text x="32.8" y="192.25000000000003" font-size="8.2" fill="#444" text-anchor="end" font-weight="normal" stroke="#444" stroke-width="0.18" >30</text>
<line x1="34.3" y1="207.00" x2="36.5" y2="207.00" stroke="#666" stroke-width="0.8"/>
<text x="32.8" y="209.9" font-size="8.2" fill="#444" text-anchor="end" font-weight="normal" stroke="#444" stroke-width="0.18" >20</text>
<line x1="34.3" y1="224.65" x2="36.5" y2="224.65" stroke="#666" stroke-width="0.8"/>
<text x="32.8" y="227.55" font-size="8.2" fill="#444" text-anchor="end" font-weight="normal" stroke="#444" stroke-width="0.18" >10</text>
<line x1="34.3" y1="242.30" x2="36.5" y2="242.30" stroke="#666" stroke-width="0.8"/>
<text x="32.8" y="245.20000000000002" font-size="8.2" fill="#444" text-anchor="end" font-weight="normal" stroke="#444" stroke-width="0.18" >0</text>
<line x1="34.3" y1="259.95" x2="36.5" y2="259.95" stroke="#666" stroke-width="0.8"/>
<text x="32.8" y="262.84999999999997" font-size="8.2" fill="#444" text-anchor="end" font-weight="normal" stroke="#444" stroke-width="0.18" >-10</text>
<line x1="34.3" y1="277.60" x2="36.5" y2="277.60" stroke="#666" stroke-width="0.8"/>
<text x="32.8" y="280.5" font-size="8.2" fill="#444" text-anchor="end" font-weight="normal" stroke="#444" stroke-width="0.18" >-20</text>
<line x1="35.3" y1="198.18" x2="36.5" y2="198.18" stroke="#777" stroke-width="0.6"/>
<line x1="35.3" y1="215.83" x2="36.5" y2="215.83" stroke="#777" stroke-width="0.6"/>
<line x1="35.3" y1="233.48" x2="36.5" y2="233.48" stroke="#777" stroke-width="0.6"/>
<line x1="35.3" y1="251.12" x2="36.5" y2="251.12" stroke="#777" stroke-width="0.6"/>
<line x1="35.3" y1="268.78" x2="36.5" y2="268.78" stroke="#777" stroke-width="0.6"/>
<line x1="35.3" y1="286.43" x2="36.5" y2="286.43" stroke="#777" stroke-width="0.6"/>
<text x="0" y="0" font-size="9.4" fill="#333" text-anchor="middle" font-weight="normal" transform="translate(17.4,233.7) rotate(-90)" stroke="#333" stroke-width="0.18" textLength="48" lengthAdjust="spacingAndGlyphs" >Voltage (V)</text>
<text x="0" y="0" font-size="8.3" fill="#111" text-anchor="start" font-weight="bold" transform="translate(40.2,241.9) rotate(-31)" stroke="#111" stroke-width="0.18" textLength="19.3" lengthAdjust="spacingAndGlyphs" >PTFE</text>
<text x="0" y="0" font-size="8.3" fill="#111" text-anchor="start" font-weight="bold" transform="translate(58.0,260.40000000000003) rotate(-31)" stroke="#111" stroke-width="0.18" textLength="22" lengthAdjust="spacingAndGlyphs" >PDMS</text>
<text x="0" y="0" font-size="8.3" fill="#111" text-anchor="start" font-weight="bold" transform="translate(78.4,258.0) rotate(-31)" stroke="#111" stroke-width="0.18" textLength="22.5" lengthAdjust="spacingAndGlyphs" >Paper</text>
<text x="0" y="0" font-size="8.3" fill="#111" text-anchor="start" font-weight="bold" transform="translate(96.6,259.90000000000003) rotate(-31)" stroke="#111" stroke-width="0.18" textLength="20.5" lengthAdjust="spacingAndGlyphs" >BOPP</text>
<text x="0" y="0" font-size="8.3" fill="#111" text-anchor="start" font-weight="bold" transform="translate(117.0,257.20000000000005) rotate(-31)" stroke="#111" stroke-width="0.18" textLength="16.3" lengthAdjust="spacingAndGlyphs" >PVC</text>
<text x="0" y="0" font-size="8.3" fill="#111" text-anchor="start" font-weight="bold" transform="translate(138.6,255.0) rotate(-31)" stroke="#111" stroke-width="0.18" textLength="10.2" lengthAdjust="spacingAndGlyphs" >PE</text>
<text x="0" y="0" font-size="8.3" fill="#111" text-anchor="start" font-weight="bold" transform="translate(155.1,255.2) rotate(-31)" stroke="#111" stroke-width="0.18" textLength="15.2" lengthAdjust="spacingAndGlyphs" >PET</text>
<text x="171.8" y="190.4" font-size="15.2" fill="#111" text-anchor="start" font-weight="normal" textLength="17.7" lengthAdjust="spacingAndGlyphs" stroke="#111" stroke-width="0.12">(d)</text>
<rect x="215.5" y="180.5" width="141.0" height="106.0" fill="none" stroke="#7a7a7a" stroke-width="1"/>
<line x1="215.5" y1="215.5" x2="356.5" y2="215.5" stroke="#7a7a7a" stroke-width="1"/>
<line x1="215.5" y1="251.5" x2="356.5" y2="251.5" stroke="#7a7a7a" stroke-width="1"/>
<path d="M216.00,185.02 L216.05,184.94 L216.06,184.94 L217.06,191.64 L218.06,205.85 L218.56,210.42 L218.96,211.33 L219.46,210.42 L220.56,203.82 L221.76,194.69 L222.16,190.83 L222.66,190.42 L223.76,189.61 L225.06,187.07 L226.39,184.94 L226.40,184.94 L227.40,191.64 L228.40,205.85 L228.90,210.42 L229.30,211.33 L229.80,210.42 L230.90,203.82 L232.10,194.69 L232.50,190.83 L233.00,190.42 L234.10,189.61 L235.40,187.07 L236.73,184.94 L236.74,184.94 L237.74,191.64 L238.74,205.85 L239.24,210.42 L239.64,211.33 L240.14,210.42 L241.24,203.82 L242.44,194.69 L242.84,190.83 L243.34,190.42 L244.44,189.61 L245.74,187.07 L247.07,184.94 L247.08,184.94 L248.08,191.64 L249.08,205.85 L249.58,210.42 L249.98,211.33 L250.48,210.42 L251.58,203.82 L252.78,194.69 L253.18,190.83 L253.68,190.42 L254.78,189.61 L256.08,187.07 L257.41,184.94 L257.42,184.94 L258.42,191.64 L259.42,205.85 L259.92,210.42 L260.32,211.33 L260.82,210.42 L261.92,203.82 L263.12,194.69 L263.52,190.83 L264.02,190.42 L265.12,189.61 L266.42,187.07 L267.75,184.94 L267.76,184.94 L268.76,191.64 L269.76,205.85 L270.26,210.42 L270.66,211.33 L271.16,210.42 L272.26,203.82 L273.46,194.69 L273.86,190.83 L274.36,190.42 L275.46,189.61 L276.76,187.07 L278.09,184.94 L278.10,184.94 L279.10,191.64 L280.10,205.85 L280.60,210.42 L281.00,211.33 L281.50,210.42 L282.60,203.82 L283.80,194.69 L284.20,190.83 L284.70,190.42 L285.80,189.61 L287.10,187.07 L288.43,184.94 L288.44,184.94 L289.44,191.64 L290.44,205.85 L290.94,210.42 L291.34,211.33 L291.84,210.42 L292.94,203.82 L294.14,194.69 L294.54,190.83 L295.04,190.42 L296.14,189.61 L297.44,187.07 L298.77,184.94 L298.78,184.94 L299.78,191.64 L300.78,205.85 L301.28,210.42 L301.68,211.33 L302.18,210.42 L303.28,203.82 L304.48,194.69 L304.88,190.83 L305.38,190.42 L306.48,189.61 L307.78,187.07 L309.11,184.94 L309.12,184.94 L310.12,191.64 L311.12,205.85 L311.62,210.42 L312.02,211.33 L312.52,210.42 L313.62,203.82 L314.82,194.69 L315.22,190.83 L315.72,190.42 L316.82,189.61 L318.12,187.07 L319.45,184.94 L319.46,184.94 L320.46,191.64 L321.46,205.85 L321.96,210.42 L322.36,211.33 L322.86,210.42 L323.96,203.82 L325.16,194.69 L325.56,190.83 L326.06,190.42 L327.16,189.61 L328.46,187.07 L329.79,184.94 L329.80,184.94 L330.80,191.64 L331.80,205.85 L332.30,210.42 L332.70,211.33 L333.20,210.42 L334.30,203.82 L335.50,194.69 L335.90,190.83 L336.40,190.42 L337.50,189.61 L338.80,187.07 L340.13,184.94 L340.14,184.94 L341.14,191.64 L342.14,205.85 L342.64,210.42 L343.04,211.33 L343.54,210.42 L344.64,203.82 L345.84,194.69 L346.24,190.83 L346.74,190.42 L347.84,189.61 L349.14,187.07 L350.47,184.94 L350.48,184.94 L351.48,191.64 L352.48,205.85 L352.98,210.42 L353.38,211.33 L353.88,210.42 L354.98,203.82 L356.00,196.06" fill="none" stroke="#7a7a7a" stroke-width="1.1" stroke-linejoin="round"/>
<path d="M216.00,239.01 L216.85,239.48 L217.65,240.19 L217.98,241.43 L218.33,225.93 L218.48,219.02 L218.50,218.91 L218.90,234.30 L219.50,236.81 L220.90,238.72 L222.00,238.91 L222.80,240.02 L222.95,246.63 L223.15,239.92 L223.80,237.55 L224.60,237.32 L225.70,238.33 L227.20,239.56 L228.00,240.15 L228.33,241.43 L228.68,226.01 L228.83,218.69 L228.85,218.78 L229.25,234.15 L229.85,236.19 L231.25,238.78 L232.35,239.08 L233.15,239.80 L233.30,246.74 L233.50,239.98 L234.15,237.83 L234.95,237.07 L236.05,238.35 L237.55,239.65 L238.35,239.72 L238.68,241.61 L239.03,225.89 L239.18,218.88 L239.20,218.88 L239.60,234.03 L240.20,236.29 L241.60,238.23 L242.70,239.04 L243.50,239.86 L243.65,246.80 L243.85,239.84 L244.50,237.42 L245.30,236.85 L246.40,238.31 L247.90,239.84 L248.70,240.05 L249.03,241.37 L249.38,226.34 L249.53,218.96 L249.55,219.16 L249.95,234.26 L250.55,236.81 L251.95,238.34 L253.05,239.27 L253.85,240.14 L254.00,246.58 L254.20,239.73 L254.85,237.80 L255.65,237.22 L256.75,238.49 L258.25,239.44 L259.05,239.76 L259.38,241.24 L259.73,226.17 L259.88,218.99 L259.90,219.03 L260.30,233.75 L260.90,236.21 L262.30,238.76 L263.40,239.24 L264.20,240.15 L264.35,246.68 L264.55,239.98 L265.20,237.46 L266.00,237.34 L267.10,238.86 L268.60,239.75 L269.40,240.06 L269.73,241.44 L270.08,225.72 L270.23,218.81 L270.25,218.93 L270.65,233.93 L271.25,236.40 L272.65,238.82 L273.75,238.76 L274.55,239.79 L274.70,246.25 L274.90,239.78 L275.55,237.59 L276.35,237.25 L277.45,238.79 L278.95,239.61 L279.75,240.27 L280.08,241.77 L280.43,226.22 L280.58,219.16 L280.60,219.05 L281.00,234.30 L281.60,236.85 L283.00,238.76 L284.10,239.29 L284.90,240.07 L285.05,246.82 L285.25,239.72 L285.90,237.44 L286.70,237.42 L287.80,238.69 L289.30,239.80 L290.10,240.07 L290.43,241.73 L290.78,225.79 L290.93,218.61 L290.95,218.96 L291.35,234.02 L291.95,236.79 L293.35,238.79 L294.45,239.13 L295.25,240.13 L295.40,246.28 L295.60,240.20 L296.25,237.84 L297.05,236.88 L298.15,238.51 L299.65,239.93 L300.45,239.95 L300.78,241.80 L301.13,226.01 L301.28,218.62 L301.30,218.69 L301.70,233.87 L302.30,236.68 L303.70,238.61 L304.80,239.25 L305.60,239.79 L305.75,246.48 L305.95,239.79 L306.60,237.63 L307.40,237.37 L308.50,238.32 L310.00,239.37 L310.80,239.74 L311.13,241.28 L311.48,225.81 L311.63,218.78 L311.65,219.12 L312.05,233.99 L312.65,236.61 L314.05,238.84 L315.15,239.34 L315.95,240.12 L316.10,246.66 L316.30,239.85 L316.95,237.21 L317.75,237.22 L318.85,238.23 L320.35,239.37 L321.15,239.67 L321.48,241.57 L321.83,226.21 L321.98,219.12 L322.00,219.14 L322.40,234.20 L323.00,236.43 L324.40,238.26 L325.50,238.80 L326.30,239.99 L326.45,246.40 L326.65,239.77 L327.30,237.80 L328.10,237.08 L329.20,238.25 L330.70,239.51 L331.50,239.81 L331.83,241.50 L332.18,226.24 L332.33,218.74 L332.35,219.05 L332.75,233.80 L333.35,236.20 L334.75,238.59 L335.85,239.09 L336.65,239.68 L336.80,246.35 L337.00,240.20 L337.65,237.77 L338.45,237.42 L339.55,238.25 L341.05,239.49 L341.85,240.21 L342.18,241.26 L342.53,225.70 L342.68,218.83 L342.70,219.04 L343.10,233.97 L343.70,236.76 L345.10,238.85 L346.20,238.71 L347.00,239.87 L347.15,246.49 L347.35,239.68 L348.00,237.56 L348.80,236.94 L349.90,238.31 L351.40,239.89 L352.20,240.14 L352.53,241.62 L352.88,226.20 L353.03,218.88 L353.05,219.10 L353.45,234.06 L354.05,236.76 L355.45,238.25 L356.00,238.69" fill="none" stroke="#2e9590" stroke-width="1.0" stroke-linejoin="round"/>
<path d="M216.00,277.12 L217.25,267.47 L217.86,263.52 L218.30,262.39 L218.30,262.39 L219.02,263.18 L219.83,266.91 L220.75,272.78 L221.67,273.69 L222.90,274.36 L223.92,276.51 L225.76,280.47 L226.27,279.34 L227.81,267.47 L228.42,263.52 L228.86,262.39 L228.86,262.39 L229.58,263.18 L230.39,266.91 L231.31,272.78 L232.23,273.69 L233.46,274.36 L234.48,276.51 L236.32,280.47 L236.83,279.34 L238.37,267.47 L238.98,263.52 L239.42,262.39 L239.42,262.39 L240.14,263.18 L240.95,266.91 L241.87,272.78 L242.79,273.69 L244.02,274.36 L245.04,276.51 L246.88,280.47 L247.39,279.34 L248.93,267.47 L249.54,263.52 L249.98,262.39 L249.98,262.39 L250.70,263.18 L251.51,266.91 L252.43,272.78 L253.35,273.69 L254.58,274.36 L255.60,276.51 L257.44,280.47 L257.95,279.34 L259.49,267.47 L260.10,263.52 L260.54,262.39 L260.54,262.39 L261.26,263.18 L262.07,266.91 L262.99,272.78 L263.91,273.69 L265.14,274.36 L266.16,276.51 L268.00,280.47 L268.51,279.34 L270.05,267.47 L270.66,263.52 L271.10,262.39 L271.10,262.39 L271.82,263.18 L272.63,266.91 L273.55,272.78 L274.47,273.69 L275.70,274.36 L276.72,276.51 L278.56,280.47 L279.07,279.34 L280.61,267.47 L281.22,263.52 L281.66,262.39 L281.66,262.39 L282.38,263.18 L283.19,266.91 L284.11,272.78 L285.03,273.69 L286.26,274.36 L287.28,276.51 L289.12,280.47 L289.63,279.34 L291.17,267.47 L291.78,263.52 L292.22,262.39 L292.22,262.39 L292.94,263.18 L293.75,266.91 L294.67,272.78 L295.59,273.69 L296.82,274.36 L297.84,276.51 L299.68,280.47 L300.19,279.34 L301.73,267.47 L302.34,263.52 L302.78,262.39 L302.78,262.39 L303.50,263.18 L304.31,266.91 L305.23,272.78 L306.15,273.69 L307.38,274.36 L308.40,276.51 L310.24,280.47 L310.75,279.34 L312.29,267.47 L312.90,263.52 L313.34,262.39 L313.34,262.39 L314.06,263.18 L314.87,266.91 L315.79,272.78 L316.71,273.69 L317.94,274.36 L318.96,276.51 L320.80,280.47 L321.31,279.34 L322.85,267.47 L323.46,263.52 L323.90,262.39 L323.90,262.39 L324.62,263.18 L325.43,266.91 L326.35,272.78 L327.27,273.69 L328.50,274.36 L329.52,276.51 L331.36,280.47 L331.87,279.34 L333.41,267.47 L334.02,263.52 L334.46,262.39 L334.46,262.39 L335.18,263.18 L335.99,266.91 L336.91,272.78 L337.83,273.69 L339.06,274.36 L340.08,276.51 L341.92,280.47 L342.43,279.34 L343.97,267.47 L344.58,263.52 L345.02,262.39 L345.02,262.39 L345.74,263.18 L346.55,266.91 L347.47,272.78 L348.39,273.69 L349.62,274.36 L350.64,276.51 L352.48,280.47 L352.99,279.34 L354.53,267.47 L355.14,263.52 L355.58,262.39 L355.58,262.39 L356.00,262.85" fill="none" stroke="#58aa58" stroke-width="1.15" stroke-linejoin="round"/>
<text x="212.4" y="187.54999999999998" font-size="5.8" fill="#444" text-anchor="end" font-weight="normal" stroke="#444" stroke-width="0.18" >100</text>
<line x1="213.7" y1="185.55" x2="215.5" y2="185.55" stroke="#777" stroke-width="0.6"/>
<text x="212.4" y="197.7" font-size="5.8" fill="#444" text-anchor="end" font-weight="normal" stroke="#444" stroke-width="0.18" >0</text>
<line x1="213.7" y1="195.70" x2="215.5" y2="195.70" stroke="#777" stroke-width="0.6"/>
<text x="212.4" y="207.85" font-size="5.8" fill="#444" text-anchor="end" font-weight="normal" stroke="#444" stroke-width="0.18" >-100</text>
<line x1="213.7" y1="205.85" x2="215.5" y2="205.85" stroke="#777" stroke-width="0.6"/>
<text x="212.4" y="227.69" font-size="5.8" fill="#444" text-anchor="end" font-weight="normal" stroke="#444" stroke-width="0.18" >200</text>
<line x1="213.7" y1="225.69" x2="215.5" y2="225.69" stroke="#777" stroke-width="0.6"/>
<text x="212.4" y="238.85" font-size="5.8" fill="#444" text-anchor="end" font-weight="normal" stroke="#444" stroke-width="0.18" >0</text>
<line x1="213.7" y1="236.85" x2="215.5" y2="236.85" stroke="#777" stroke-width="0.6"/>
<text x="212.4" y="250.01" font-size="5.8" fill="#444" text-anchor="end" font-weight="normal" stroke="#444" stroke-width="0.18" >-200</text>
<line x1="213.7" y1="248.01" x2="215.5" y2="248.01" stroke="#777" stroke-width="0.6"/>
<text x="212.4" y="259.3" font-size="5.8" fill="#444" text-anchor="end" font-weight="normal" stroke="#444" stroke-width="0.18" >100</text>
<line x1="213.7" y1="257.30" x2="215.5" y2="257.30" stroke="#777" stroke-width="0.6"/>
<text x="212.4" y="270.6" font-size="5.8" fill="#444" text-anchor="end" font-weight="normal" stroke="#444" stroke-width="0.18" >0</text>
<line x1="213.7" y1="268.60" x2="215.5" y2="268.60" stroke="#777" stroke-width="0.6"/>
<text x="212.4" y="281.90000000000003" font-size="5.8" fill="#444" text-anchor="end" font-weight="normal" stroke="#444" stroke-width="0.18" >-100</text>
<line x1="213.7" y1="279.90" x2="215.5" y2="279.90" stroke="#777" stroke-width="0.6"/>
<text x="0" y="0" font-size="7" fill="#333" text-anchor="middle" font-weight="normal" transform="translate(196.6,197.7) rotate(-90)" stroke="#333" stroke-width="0.18" textLength="24" lengthAdjust="spacingAndGlyphs" >Voc (V)</text>
<text x="0" y="0" font-size="7" fill="#333" text-anchor="middle" font-weight="normal" transform="translate(196.6,233.4) rotate(-90)" stroke="#333" stroke-width="0.18" textLength="22.2" lengthAdjust="spacingAndGlyphs" >Isc (nA)</text>
<text x="0" y="0" font-size="7" fill="#333" text-anchor="middle" font-weight="normal" transform="translate(196.6,269) rotate(-90)" stroke="#333" stroke-width="0.18" textLength="26.5" lengthAdjust="spacingAndGlyphs" >Qsc (nC)</text>
<text x="215.7" y="293.6" font-size="5.8" fill="#444" text-anchor="middle" font-weight="normal" stroke="#444" stroke-width="0.18" >0</text>
<line x1="215.7" y1="286.5" x2="215.7" y2="288.3" stroke="#777" stroke-width="0.6"/>
<text x="274.4" y="293.6" font-size="5.8" fill="#444" text-anchor="middle" font-weight="normal" stroke="#444" stroke-width="0.18" >50</text>
<line x1="274.4" y1="286.5" x2="274.4" y2="288.3" stroke="#777" stroke-width="0.6"/>
<text x="333" y="293.6" font-size="5.8" fill="#444" text-anchor="middle" font-weight="normal" stroke="#444" stroke-width="0.18" >100</text>
<line x1="333" y1="286.5" x2="333" y2="288.3" stroke="#777" stroke-width="0.6"/>
<text x="286" y="304.5" font-size="8" fill="#333" text-anchor="middle" font-weight="normal" stroke="#333" stroke-width="0.18" textLength="24.8" lengthAdjust="spacingAndGlyphs" >Time(s)</text>
<text x="367.4" y="189.7" font-size="15.2" fill="#111" text-anchor="start" font-weight="normal" textLength="16.6" lengthAdjust="spacingAndGlyphs" stroke="#111" stroke-width="0.12">(e)</text>
<rect x="396.5" y="181.5" width="131.0" height="105.0" fill="none" stroke="#7a7a7a" stroke-width="1"/>
<text x="392.3" y="288.7" font-size="7" fill="#444" text-anchor="end" font-weight="normal" stroke="#444" stroke-width="0.18" >11</text>
<line x1="396.5" y1="286.20" x2="398.5" y2="286.20" stroke="#777" stroke-width="0.6"/>
<line x1="396.5" y1="277.44" x2="397.7" y2="277.44" stroke="#777" stroke-width="0.5"/>
<text x="392.3" y="271.16999999999996" font-size="7" fill="#444" text-anchor="end" font-weight="normal" stroke="#444" stroke-width="0.18" >12</text>
<line x1="396.5" y1="268.67" x2="398.5" y2="268.67" stroke="#777" stroke-width="0.6"/>
<line x1="396.5" y1="259.91" x2="397.7" y2="259.91" stroke="#777" stroke-width="0.5"/>
<text x="392.3" y="253.64" font-size="7" fill="#444" text-anchor="end" font-weight="normal" stroke="#444" stroke-width="0.18" >13</text>
<line x1="396.5" y1="251.14" x2="398.5" y2="251.14" stroke="#777" stroke-width="0.6"/>
<line x1="396.5" y1="242.38" x2="397.7" y2="242.38" stroke="#777" stroke-width="0.5"/>
<text x="392.3" y="236.10999999999999" font-size="7" fill="#444" text-anchor="end" font-weight="normal" stroke="#444" stroke-width="0.18" >14</text>
<line x1="396.5" y1="233.61" x2="398.5" y2="233.61" stroke="#777" stroke-width="0.6"/>
<line x1="396.5" y1="224.85" x2="397.7" y2="224.85" stroke="#777" stroke-width="0.5"/>
<text x="392.3" y="218.57999999999998" font-size="7" fill="#444" text-anchor="end" font-weight="normal" stroke="#444" stroke-width="0.18" >15</text>
<line x1="396.5" y1="216.08" x2="398.5" y2="216.08" stroke="#777" stroke-width="0.6"/>
<line x1="396.5" y1="207.32" x2="397.7" y2="207.32" stroke="#777" stroke-width="0.5"/>
<text x="392.3" y="201.04999999999998" font-size="7" fill="#444" text-anchor="end" font-weight="normal" stroke="#444" stroke-width="0.18" >16</text>
<line x1="396.5" y1="198.55" x2="398.5" y2="198.55" stroke="#777" stroke-width="0.6"/>
<line x1="396.5" y1="189.79" x2="397.7" y2="189.79" stroke="#777" stroke-width="0.5"/>
<text x="392.3" y="183.51999999999998" font-size="7" fill="#444" text-anchor="end" font-weight="normal" stroke="#444" stroke-width="0.18" >17</text>
<line x1="396.5" y1="181.02" x2="398.5" y2="181.02" stroke="#777" stroke-width="0.6"/>
<text x="531" y="276.7" font-size="7" fill="#444" text-anchor="start" font-weight="normal" stroke="#444" stroke-width="0.18" >1</text>
<line x1="527.5" y1="274.20" x2="529.5" y2="274.20" stroke="#777" stroke-width="0.6"/>
<text x="531" y="253.39999999999998" font-size="7" fill="#444" text-anchor="start" font-weight="normal" stroke="#444" stroke-width="0.18" >2</text>
<line x1="527.5" y1="250.90" x2="529.5" y2="250.90" stroke="#777" stroke-width="0.6"/>
<text x="531" y="230.1" font-size="7" fill="#444" text-anchor="start" font-weight="normal" stroke="#444" stroke-width="0.18" >3</text>
<line x1="527.5" y1="227.60" x2="529.5" y2="227.60" stroke="#777" stroke-width="0.6"/>
<text x="531" y="206.79999999999998" font-size="7" fill="#444" text-anchor="start" font-weight="normal" stroke="#444" stroke-width="0.18" >4</text>
<line x1="527.5" y1="204.30" x2="529.5" y2="204.30" stroke="#777" stroke-width="0.6"/>
<text x="531" y="183.5" font-size="7" fill="#444" text-anchor="start" font-weight="normal" stroke="#444" stroke-width="0.18" >5</text>
<line x1="527.5" y1="181.00" x2="529.5" y2="181.00" stroke="#777" stroke-width="0.6"/>
<text x="425.3" y="296.5" font-size="5.8" fill="#444" text-anchor="middle" font-weight="normal" stroke="#444" stroke-width="0.18" >10</text>
<text x="428.7" y="293.2" font-size="3.8" fill="#444" text-anchor="start" font-weight="normal" stroke="#444" stroke-width="0.18" >2</text>
<line x1="426.5" y1="284.5" x2="426.5" y2="286.5" stroke="#777" stroke-width="0.6"/>
<text x="469.2" y="296.5" font-size="5.8" fill="#444" text-anchor="middle" font-weight="normal" stroke="#444" stroke-width="0.18" >10</text>
<text x="472.59999999999997" y="293.2" font-size="3.8" fill="#444" text-anchor="start" font-weight="normal" stroke="#444" stroke-width="0.18" >3</text>
<line x1="470.4" y1="284.5" x2="470.4" y2="286.5" stroke="#777" stroke-width="0.6"/>
<text x="512.8" y="296.5" font-size="5.8" fill="#444" text-anchor="middle" font-weight="normal" stroke="#444" stroke-width="0.18" >10</text>
<text x="516.2" y="293.2" font-size="3.8" fill="#444" text-anchor="start" font-weight="normal" stroke="#444" stroke-width="0.18" >4</text>
<line x1="514" y1="284.5" x2="514" y2="286.5" stroke="#777" stroke-width="0.6"/>
<line x1="403.62" y1="285.3" x2="403.62" y2="286.5" stroke="#888" stroke-width="0.5"/>
<line x1="409.09" y1="285.3" x2="409.09" y2="286.5" stroke="#888" stroke-width="0.5"/>
<line x1="413.33" y1="285.3" x2="413.33" y2="286.5" stroke="#888" stroke-width="0.5"/>
<line x1="416.79" y1="285.3" x2="416.79" y2="286.5" stroke="#888" stroke-width="0.5"/>
<line x1="419.72" y1="285.3" x2="419.72" y2="286.5" stroke="#888" stroke-width="0.5"/>
<line x1="422.26" y1="285.3" x2="422.26" y2="286.5" stroke="#888" stroke-width="0.5"/>
<line x1="424.50" y1="285.3" x2="424.50" y2="286.5" stroke="#888" stroke-width="0.5"/>
<line x1="439.67" y1="285.3" x2="439.67" y2="286.5" stroke="#888" stroke-width="0.5"/>
<line x1="447.37" y1="285.3" x2="447.37" y2="286.5" stroke="#888" stroke-width="0.5"/>
<line x1="452.84" y1="285.3" x2="452.84" y2="286.5" stroke="#888" stroke-width="0.5"/>
<line x1="457.08" y1="285.3" x2="457.08" y2="286.5" stroke="#888" stroke-width="0.5"/>
<line x1="460.54" y1="285.3" x2="460.54" y2="286.5" stroke="#888" stroke-width="0.5"/>
<line x1="463.47" y1="285.3" x2="463.47" y2="286.5" stroke="#888" stroke-width="0.5"/>
<line x1="466.01" y1="285.3" x2="466.01" y2="286.5" stroke="#888" stroke-width="0.5"/>
<line x1="468.25" y1="285.3" x2="468.25" y2="286.5" stroke="#888" stroke-width="0.5"/>
<line x1="483.42" y1="285.3" x2="483.42" y2="286.5" stroke="#888" stroke-width="0.5"/>
<line x1="491.12" y1="285.3" x2="491.12" y2="286.5" stroke="#888" stroke-width="0.5"/>
<line x1="496.59" y1="285.3" x2="496.59" y2="286.5" stroke="#888" stroke-width="0.5"/>
<line x1="500.83" y1="285.3" x2="500.83" y2="286.5" stroke="#888" stroke-width="0.5"/>
<line x1="504.29" y1="285.3" x2="504.29" y2="286.5" stroke="#888" stroke-width="0.5"/>
<line x1="507.22" y1="285.3" x2="507.22" y2="286.5" stroke="#888" stroke-width="0.5"/>
<line x1="509.76" y1="285.3" x2="509.76" y2="286.5" stroke="#888" stroke-width="0.5"/>
<line x1="512.00" y1="285.3" x2="512.00" y2="286.5" stroke="#888" stroke-width="0.5"/>
<line x1="527.17" y1="285.3" x2="527.17" y2="286.5" stroke="#888" stroke-width="0.5"/>
<line x1="413.3" y1="230.8" x2="413.3" y2="258.3" stroke="#b0b0b0" stroke-width="0.7"/>
<line x1="411.8" y1="230.8" x2="414.8" y2="230.8" stroke="#b0b0b0" stroke-width="0.7"/><line x1="411.8" y1="258.3" x2="414.8" y2="258.3" stroke="#b0b0b0" stroke-width="0.7"/>
<line x1="426.5" y1="226.9" x2="426.5" y2="244.9" stroke="#b0b0b0" stroke-width="0.7"/>
<line x1="425.0" y1="226.9" x2="428.0" y2="226.9" stroke="#b0b0b0" stroke-width="0.7"/><line x1="425.0" y1="244.9" x2="428.0" y2="244.9" stroke="#b0b0b0" stroke-width="0.7"/>
<line x1="457.3" y1="229.9" x2="457.3" y2="259.8" stroke="#b0b0b0" stroke-width="0.7"/>
<line x1="455.8" y1="229.9" x2="458.8" y2="229.9" stroke="#b0b0b0" stroke-width="0.7"/><line x1="455.8" y1="259.8" x2="458.8" y2="259.8" stroke="#b0b0b0" stroke-width="0.7"/>
<line x1="470.4" y1="257.4" x2="470.4" y2="277.8" stroke="#b0b0b0" stroke-width="0.7"/>
<line x1="468.9" y1="257.4" x2="471.9" y2="257.4" stroke="#b0b0b0" stroke-width="0.7"/><line x1="468.9" y1="277.8" x2="471.9" y2="277.8" stroke="#b0b0b0" stroke-width="0.7"/>
<line x1="513.8" y1="254.4" x2="513.8" y2="267.9" stroke="#b0b0b0" stroke-width="0.7"/>
<line x1="512.3" y1="254.4" x2="515.3" y2="254.4" stroke="#b0b0b0" stroke-width="0.7"/><line x1="512.3" y1="267.9" x2="515.3" y2="267.9" stroke="#b0b0b0" stroke-width="0.7"/>
<polyline points="413.3,244.25 426.5,235.9 457.3,245.4 470.4,267.9 513.8,260.7" fill="none" stroke="#3a3aa0" stroke-width="0.9"/>
<rect x="411.0" y="241.95" width="4.6" height="4.6" fill="#1a237e"/>
<rect x="424.2" y="233.6" width="4.6" height="4.6" fill="#1a237e"/>
<rect x="455.0" y="243.1" width="4.6" height="4.6" fill="#1a237e"/>
<rect x="468.09999999999997" y="265.59999999999997" width="4.6" height="4.6" fill="#1a237e"/>
<rect x="511.49999999999994" y="258.4" width="4.6" height="4.6" fill="#1a237e"/>
<polyline points="415.4,277.2 429.8,257.7 463.5,194 477.8,202" fill="none" stroke="#a040a0" stroke-width="0.9"/>
<circle cx="415.4" cy="277.2" r="2.5" fill="#7b1f7b"/>
<circle cx="429.8" cy="257.7" r="2.5" fill="#7b1f7b"/>
<circle cx="463.5" cy="194" r="2.5" fill="#7b1f7b"/>
<circle cx="477.8" cy="202" r="2.5" fill="#7b1f7b"/>
<line x1="404" y1="190.4" x2="415" y2="190.4" stroke="#3a3aa0" stroke-width="0.8"/><rect x="407.4" y="188.6" width="3.6" height="3.6" fill="#1a237e"/>
<text x="417" y="192.3" font-size="5.4" fill="#333" text-anchor="start" font-weight="normal" stroke="#333" stroke-width="0.18" textLength="16.5" lengthAdjust="spacingAndGlyphs" >Current</text>
<line x1="404" y1="200" x2="415" y2="200" stroke="#a040a0" stroke-width="0.8"/><circle cx="409.4" cy="200" r="2" fill="#7b1f7b"/>
<text x="417" y="201.9" font-size="5.4" fill="#333" text-anchor="start" font-weight="normal" stroke="#333" stroke-width="0.18" textLength="33" lengthAdjust="spacingAndGlyphs" >Power Density</text>
<text x="0" y="0" font-size="8.8" fill="#333" text-anchor="middle" font-weight="normal" transform="translate(381.2,240.5) rotate(-90)" stroke="#333" stroke-width="0.18" textLength="43.7" lengthAdjust="spacingAndGlyphs" >Current (nA)</text>
<text x="0" y="0" font-size="8.6" fill="#333" text-anchor="middle" font-weight="normal" transform="translate(544.2,232.8) rotate(-90)" stroke="#333" stroke-width="0.18" >Power density (mW/m<tspan dy="-3.2" font-size="5.8">2</tspan><tspan dy="3.2">)</tspan></text>
<text x="462.1" y="306.1" font-size="7.8" fill="#333" text-anchor="middle" font-weight="normal" stroke="#333" stroke-width="0.18" textLength="59.8" lengthAdjust="spacingAndGlyphs" >Resistance (M&#937;)</text>
<text x="3.3" y="330.4" font-size="15.2" fill="#111" text-anchor="start" font-weight="normal" textLength="13.1" lengthAdjust="spacingAndGlyphs" stroke="#111" stroke-width="0.12">(f)</text>
<rect x="37.5" y="319.5" width="167.0" height="118.0" fill="none" stroke="#808080" stroke-width="1"/>
<text x="31" y="335.4" font-size="7.4" fill="#444" text-anchor="end" font-weight="normal" stroke="#444" stroke-width="0.18" >200</text>
<line x1="35.3" y1="332.80" x2="37.5" y2="332.80" stroke="#777" stroke-width="0.7"/>
<text x="31" y="361.45" font-size="7.4" fill="#444" text-anchor="end" font-weight="normal" stroke="#444" stroke-width="0.18" >100</text>
<line x1="35.3" y1="358.85" x2="37.5" y2="358.85" stroke="#777" stroke-width="0.7"/>
<text x="31" y="387.5" font-size="7.4" fill="#444" text-anchor="end" font-weight="normal" stroke="#444" stroke-width="0.18" >0</text>
<line x1="35.3" y1="384.90" x2="37.5" y2="384.90" stroke="#777" stroke-width="0.7"/>
<text x="31" y="413.55" font-size="7.4" fill="#444" text-anchor="end" font-weight="normal" stroke="#444" stroke-width="0.18" >-100</text>
<line x1="35.3" y1="410.95" x2="37.5" y2="410.95" stroke="#777" stroke-width="0.7"/>
<text x="31" y="439.6" font-size="7.4" fill="#444" text-anchor="end" font-weight="normal" stroke="#444" stroke-width="0.18" >-200</text>
<line x1="35.3" y1="437.00" x2="37.5" y2="437.00" stroke="#777" stroke-width="0.7"/>
<line x1="36.3" y1="345.82" x2="37.5" y2="345.82" stroke="#777" stroke-width="0.6"/>
<line x1="36.3" y1="371.88" x2="37.5" y2="371.88" stroke="#777" stroke-width="0.6"/>
<line x1="36.3" y1="397.92" x2="37.5" y2="397.92" stroke="#777" stroke-width="0.6"/>
<line x1="36.3" y1="423.97" x2="37.5" y2="423.97" stroke="#777" stroke-width="0.6"/>
<path d="M37.90,377.43 L37.93,377.51 L40.03,429.19 L42.63,405.48 L44.33,388.55 L45.43,368.49 L46.40,345.82 L48.50,381.04 L49.80,377.19 L51.50,374.62 L52.80,377.96 L54.90,429.19 L57.50,405.48 L59.20,388.55 L60.30,369.47 L61.27,343.72 L63.37,380.84 L64.67,376.77 L66.37,374.06 L67.67,377.59 L69.77,429.19 L72.37,405.48 L74.07,388.55 L75.17,368.64 L76.14,343.72 L78.24,380.84 L79.54,376.77 L81.24,374.06 L82.54,377.59 L84.64,429.19 L87.24,405.48 L88.94,388.55 L90.04,368.64 L91.01,343.72 L93.11,380.84 L94.41,376.77 L96.11,374.06 L97.41,377.59 L99.51,429.19 L102.11,405.48 L103.81,388.55 L104.91,368.64 L105.88,343.72 L107.98,380.84 L109.28,376.77 L110.98,374.06 L112.28,377.59 L114.38,429.19 L116.98,405.48 L118.68,388.55 L119.78,368.64 L120.75,340.63 L122.85,380.53 L124.15,376.16 L125.85,373.25 L127.15,377.04 L129.25,429.19 L131.85,405.48 L133.55,388.55 L134.65,367.43 L135.62,343.72 L137.72,380.84 L139.02,376.77 L140.72,374.06 L142.02,377.59 L144.12,429.19 L146.72,405.48 L148.42,388.55 L149.52,368.64 L150.49,342.69 L152.59,380.73 L153.89,376.57 L155.59,373.79 L156.89,377.40 L158.99,429.19 L161.59,405.48 L163.29,388.55 L164.39,368.24 L165.36,340.63 L167.46,380.53 L168.76,376.16 L170.46,373.25 L171.76,377.04 L173.86,429.19 L176.46,405.48 L178.16,388.55 L179.26,367.43 L180.23,340.63 L182.33,380.53 L183.63,376.16 L185.33,373.25 L186.63,377.04 L188.73,429.19 L191.33,405.48 L193.03,388.55 L194.13,367.43 L195.10,340.63 L197.20,380.53 L198.50,376.16 L200.20,373.25 L201.50,377.04 L203.60,429.19 L204.10,424.63" fill="none" stroke="#3a3aa2" stroke-width="1.0" stroke-linejoin="round"/>
<text x="37.9" y="448.6" font-size="7.2" fill="#444" text-anchor="middle" font-weight="normal" stroke="#444" stroke-width="0.18" >200</text>
<line x1="204.5" y1="437.5" x2="204.5" y2="439.8" stroke="#777" stroke-width="0.8"/><line x1="37.5" y1="437.5" x2="37.5" y2="439.8" stroke="#777" stroke-width="0.8"/><line x1="121" y1="437.5" x2="121" y2="439" stroke="#777" stroke-width="0.6"/>
<text x="203.8" y="448.6" font-size="7.2" fill="#444" text-anchor="middle" font-weight="normal" stroke="#444" stroke-width="0.18" >300</text>
<text x="121" y="460.3" font-size="9" fill="#333" text-anchor="middle" font-weight="normal" stroke="#333" stroke-width="0.18" textLength="32" lengthAdjust="spacingAndGlyphs" >Time (s)</text>
<text x="0" y="0" font-size="9.4" fill="#333" text-anchor="middle" font-weight="normal" transform="translate(14.1,378.4) rotate(-90)" stroke="#333" stroke-width="0.18" textLength="15.4" lengthAdjust="spacingAndGlyphs" >Voc</text>
<text x="172.2" y="334" font-size="9" fill="#222" text-anchor="start" font-weight="normal" stroke="#222" stroke-width="0.18" textLength="27" lengthAdjust="spacingAndGlyphs" >&#8722;20&#176;C</text>
<text x="214.5" y="329.0" font-size="15.2" fill="#111" text-anchor="start" font-weight="normal" textLength="15.2" lengthAdjust="spacingAndGlyphs" stroke="#111" stroke-width="0.12">(g)</text>
<rect x="243.5" y="319.5" width="292.0" height="118.0" fill="none" stroke="#808080" stroke-width="1"/>
<text x="239.3" y="321.398" font-size="7.4" fill="#444" text-anchor="end" font-weight="normal" stroke="#444" stroke-width="0.18" >60</text>
<line x1="243.5" y1="318.80" x2="245.7" y2="318.80" stroke="#777" stroke-width="0.6"/>
<text x="239.3" y="353.132" font-size="7.4" fill="#444" text-anchor="end" font-weight="normal" stroke="#444" stroke-width="0.18" >40</text>
<line x1="243.5" y1="350.53" x2="245.7" y2="350.53" stroke="#777" stroke-width="0.6"/>
<text x="239.3" y="384.86600000000004" font-size="7.4" fill="#444" text-anchor="end" font-weight="normal" stroke="#444" stroke-width="0.18" >20</text>
<line x1="243.5" y1="382.27" x2="245.7" y2="382.27" stroke="#777" stroke-width="0.6"/>
<text x="239.3" y="416.6" font-size="7.4" fill="#444" text-anchor="end" font-weight="normal" stroke="#444" stroke-width="0.18" >0</text>
<line x1="243.5" y1="414.00" x2="245.7" y2="414.00" stroke="#777" stroke-width="0.6"/>
<line x1="243.5" y1="334.67" x2="244.7" y2="334.67" stroke="#777" stroke-width="0.6"/>
<line x1="243.5" y1="366.40" x2="244.7" y2="366.40" stroke="#777" stroke-width="0.6"/>
<line x1="243.5" y1="398.13" x2="244.7" y2="398.13" stroke="#777" stroke-width="0.6"/>
<line x1="243.5" y1="429.87" x2="244.7" y2="429.87" stroke="#777" stroke-width="0.6"/>
<text x="244.3" y="447.8" font-size="7.4" fill="#444" text-anchor="middle" font-weight="normal" stroke="#444" stroke-width="0.18" >0</text>
<line x1="244.30" y1="437.5" x2="244.30" y2="435.3" stroke="#777" stroke-width="0.6"/>
<line x1="267.09" y1="437.5" x2="267.09" y2="436.3" stroke="#777" stroke-width="0.6"/>
<text x="289.88" y="447.8" font-size="7.4" fill="#444" text-anchor="middle" font-weight="normal" stroke="#444" stroke-width="0.18" >200</text>
<line x1="289.88" y1="437.5" x2="289.88" y2="435.3" stroke="#777" stroke-width="0.6"/>
<line x1="312.67" y1="437.5" x2="312.67" y2="436.3" stroke="#777" stroke-width="0.6"/>
<text x="335.46000000000004" y="447.8" font-size="7.4" fill="#444" text-anchor="middle" font-weight="normal" stroke="#444" stroke-width="0.18" >400</text>
<line x1="335.46" y1="437.5" x2="335.46" y2="435.3" stroke="#777" stroke-width="0.6"/>
<line x1="358.25" y1="437.5" x2="358.25" y2="436.3" stroke="#777" stroke-width="0.6"/>
<text x="381.04" y="447.8" font-size="7.4" fill="#444" text-anchor="middle" font-weight="normal" stroke="#444" stroke-width="0.18" >600</text>
<line x1="381.04" y1="437.5" x2="381.04" y2="435.3" stroke="#777" stroke-width="0.6"/>
<line x1="403.83" y1="437.5" x2="403.83" y2="436.3" stroke="#777" stroke-width="0.6"/>
<text x="426.62" y="447.8" font-size="7.4" fill="#444" text-anchor="middle" font-weight="normal" stroke="#444" stroke-width="0.18" >800</text>
<line x1="426.62" y1="437.5" x2="426.62" y2="435.3" stroke="#777" stroke-width="0.6"/>
<line x1="449.41" y1="437.5" x2="449.41" y2="436.3" stroke="#777" stroke-width="0.6"/>
<text x="472.2" y="447.8" font-size="7.4" fill="#444" text-anchor="middle" font-weight="normal" stroke="#444" stroke-width="0.18" >1000</text>
<line x1="472.20" y1="437.5" x2="472.20" y2="435.3" stroke="#777" stroke-width="0.6"/>
<line x1="494.99" y1="437.5" x2="494.99" y2="436.3" stroke="#777" stroke-width="0.6"/>
<text x="517.78" y="447.8" font-size="7.4" fill="#444" text-anchor="middle" font-weight="normal" stroke="#444" stroke-width="0.18" >1200</text>
<line x1="517.78" y1="437.5" x2="517.78" y2="435.3" stroke="#777" stroke-width="0.6"/>
<text x="389.7" y="461.8" font-size="9" fill="#333" text-anchor="middle" font-weight="normal" stroke="#333" stroke-width="0.18" textLength="32" lengthAdjust="spacingAndGlyphs" >Time (s)</text>
<text x="0" y="0" font-size="9" fill="#333" text-anchor="middle" font-weight="normal" transform="translate(227.9,376.5) rotate(-90)" stroke="#333" stroke-width="0.18" textLength="47" lengthAdjust="spacingAndGlyphs" >Charge (nC)</text>
<path d="M253.00,359.82 V431.30 M254.55,359.25 V431.24 M256.10,358.50 V431.18 M257.65,358.31 V431.12 M259.20,358.07 V431.06 M260.75,357.04 V431.00 M262.30,357.46 V430.94 M263.85,356.74 V430.88 M265.40,356.75 V430.82 M266.95,356.39 V430.76 M268.50,355.85 V430.70 M270.05,355.67 V430.64 M271.60,354.82 V430.58 M273.15,354.17 V430.52 M274.70,354.01 V430.46 M276.25,354.42 V430.40 M277.80,353.46 V430.34 M279.35,353.40 V430.28 M280.90,352.91 V430.22 M282.45,353.00 V430.15 M284.00,352.47 V430.09 M285.55,352.33 V430.03 M287.10,351.89 V429.97 M288.65,351.76 V429.91 M290.20,351.29 V429.85 M291.75,351.32 V429.79 M293.30,351.76 V429.73 M294.85,351.74 V429.67 M296.40,351.69 V429.61 M297.95,351.12 V429.55 M299.50,351.26 V429.49 M301.05,351.01 V429.43 M302.60,350.50 V429.37 M304.15,350.74 V429.31 M305.70,350.44 V429.25 M307.25,349.52 V429.19 M308.80,349.49 V429.13 M310.35,350.00 V429.07 M311.90,349.72 V429.01 M313.45,349.92 V428.95 M315.00,349.71 V428.89 M316.55,349.12 V428.83 M318.10,349.59 V428.77 M319.65,349.79 V428.71 M321.20,349.11 V428.65 M322.75,349.19 V428.59 M324.30,348.54 V428.53 M325.85,348.65 V428.47 M327.40,348.28 V428.41 M328.95,348.96 V428.35 M330.50,348.68 V428.29 M332.05,348.13 V428.23 M333.60,349.10 V428.17 M335.15,348.41 V428.11 M336.70,348.34 V428.04 M338.25,348.87 V427.98 M339.80,347.85 V427.92 M341.35,347.78 V427.86 M342.90,348.63 V427.80 M344.45,348.59 V427.74 M346.00,347.47 V427.68 M347.55,347.78 V427.62 M349.10,347.75 V427.56 M350.65,348.23 V427.50 M352.20,348.39 V427.44 M353.75,347.59 V427.38 M355.30,348.40 V427.32 M356.85,347.67 V427.26 M358.40,347.24 V427.20 M359.95,348.20 V427.14 M361.50,347.66 V427.08 M363.05,348.16 V427.02 M364.60,347.73 V426.96 M366.15,347.60 V426.90 M367.70,347.79 V426.84 M369.25,347.65 V426.78 M370.80,347.96 V426.72 M372.35,347.23 V426.66 M373.90,347.96 V426.60 M375.45,347.12 V426.54 M377.00,346.94 V426.48 M378.55,347.79 V426.42 M380.10,347.77 V426.36 M381.65,346.82 V426.30 M383.20,347.04 V426.24 M384.75,346.92 V426.18 M386.30,347.48 V426.12 M387.85,347.19 V426.06 M389.40,346.61 V426.00 M390.95,346.67 V425.94 M392.50,347.53 V425.88 M394.05,346.77 V425.81 M395.60,347.60 V425.75 M397.15,346.46 V425.69 M398.70,347.49 V425.63 M400.25,346.39 V425.57 M401.80,347.36 V425.51 M403.35,346.65 V425.45 M404.90,346.96 V425.39 M406.45,347.18 V425.33 M408.00,346.85 V425.27 M409.55,347.22 V425.21 M411.10,347.04 V425.15 M412.65,346.55 V425.09 M414.20,346.36 V425.03 M415.75,346.91 V424.97 M417.30,346.92 V424.91 M418.85,346.73 V424.85 M420.40,347.22 V424.79 M421.95,346.44 V424.73 M423.50,346.50 V424.67 M425.05,346.92 V424.61 M426.60,346.90 V424.55 M428.15,346.13 V424.49 M429.70,346.89 V424.43 M431.25,346.94 V424.37 M432.80,347.20 V424.31 M434.35,346.30 V424.25 M435.90,346.36 V424.19 M437.45,346.22 V424.13 M439.00,346.78 V424.07 M440.55,346.44 V424.01 M442.10,346.12 V423.95 M443.65,346.41 V423.89 M445.20,346.81 V423.83 M446.75,346.31 V423.77 M448.30,346.79 V423.70 M449.85,346.34 V423.64 M451.40,346.08 V423.58 M452.95,346.28 V423.52 M454.50,347.00 V423.46 M456.05,346.82 V423.40 M457.60,345.88 V423.34 M459.15,346.91 V423.28 M460.70,346.87 V423.22 M462.25,346.76 V423.16 M463.80,345.81 V423.10 M465.35,346.06 V423.04 M466.90,346.15 V422.98 M468.45,346.47 V422.92 M470.00,346.10 V422.86 M471.55,346.61 V422.80 M473.10,346.82 V422.74 M474.65,346.25 V422.68 M476.20,346.13 V422.62 M477.75,346.25 V422.56 M479.30,346.61 V422.50 M480.85,346.56 V422.44 M482.40,346.00 V422.38 M483.95,345.70 V422.32 M485.50,345.89 V422.26 M487.05,346.24 V422.20 M488.60,346.63 V422.14 M490.15,345.66 V422.08 M491.70,346.40 V422.02 M493.25,346.03 V421.96 M494.80,346.42 V421.90 M496.35,345.65 V421.84 M497.90,346.18 V421.78 M499.45,345.72 V421.72 M501.00,345.66 V421.66 M502.55,345.85 V421.60 M504.10,346.06 V421.53 M505.65,346.22 V421.47 M507.20,346.00 V421.41 M508.75,346.51 V421.35 M510.30,345.54 V421.29 M511.85,346.09 V421.23 M513.40,346.42 V421.17 M514.95,346.30 V421.11 M516.50,346.07 V421.05 M518.05,345.79 V420.99 M519.60,345.64 V420.93 M521.15,345.56 V420.87 M522.70,346.12 V420.81" stroke="#3a9d97" stroke-width="0.95" fill="none"/>
<path d="M253.78,360.32 V414.13 M255.33,359.73 V412.23 M256.88,359.45 V412.90 M258.43,360.35 V412.71 M259.98,358.42 V412.91 M261.53,358.15 V411.17 M263.08,358.46 V411.97 M264.63,359.00 V411.47 M266.18,357.35 V413.33 M267.73,356.87 V413.31 M269.28,357.98 V412.41 M270.83,356.94 V413.80 M272.38,355.70 V410.81 M273.93,354.69 V414.16 M275.48,354.61 V410.80 M277.03,356.08 V413.65 M278.58,354.23 V411.68 M280.13,353.75 V412.36 M281.68,355.50 V414.92 M283.23,353.45 V414.80 M284.78,353.49 V409.90 M286.33,353.56 V412.33 M287.88,353.41 V409.76 M289.43,352.17 V411.65 M290.98,351.80 V411.09 M292.53,353.01 V412.14 M294.08,353.00 V412.99 M295.63,352.15 V410.96 M297.18,351.38 V412.87 M298.73,350.95 V413.35 M300.28,352.26 V412.76 M301.83,350.88 V411.63 M303.38,352.48 V412.95 M304.93,351.71 V413.31 M306.48,351.85 V409.92 M308.03,350.32 V410.49 M309.58,351.95 V411.40 M311.13,351.31 V411.93 M312.68,349.64 V412.43 M314.23,350.78 V411.04 M315.78,349.58 V411.97 M317.33,349.50 V409.53 M318.88,349.73 V411.82 M320.43,350.36 V409.96 M321.98,350.74 V411.80 M323.53,350.55 V408.27 M325.08,349.50 V411.52 M326.63,350.20 V407.78 M328.18,349.38 V411.00 M329.73,350.32 V409.02 M331.28,349.72 V409.81 M332.83,350.72 V408.40 M334.38,350.76 V407.41 M335.93,350.41 V412.08 M337.48,348.97 V408.21 M339.03,348.76 V409.99 M340.58,349.49 V411.76 M342.13,350.17 V409.46 M343.68,349.83 V408.00 M345.23,349.23 V406.88 M346.78,349.20 V408.93 M348.33,348.27 V408.32 M349.88,349.97 V406.53 M351.43,349.92 V407.04 M352.98,349.56 V410.86 M354.53,348.67 V408.24 M356.08,349.17 V408.00 M357.63,348.35 V406.36 M359.18,349.71 V407.46 M360.73,348.21 V407.28 M362.28,348.02 V407.74 M363.83,349.72 V409.85 M365.38,349.76 V410.42 M366.93,349.24 V405.88 M368.48,348.54 V409.32 M370.03,348.09 V405.72 M371.58,347.67 V407.75 M373.13,348.06 V409.01 M374.68,347.94 V408.51 M376.23,348.66 V407.12 M377.78,347.64 V406.11 M379.33,348.45 V406.09 M380.88,349.67 V407.16 M382.43,347.64 V405.28 M383.98,347.36 V405.94 M385.53,348.53 V409.10 M387.08,348.12 V406.66 M388.63,348.00 V406.20 M390.18,347.73 V409.27 M391.73,348.27 V407.50 M393.28,347.53 V405.62 M394.83,347.97 V406.42 M396.38,349.07 V408.47 M397.93,347.01 V407.57 M399.48,348.09 V406.88 M401.03,347.87 V408.50 M402.58,349.01 V408.65 M404.13,347.13 V404.48 M405.68,348.54 V408.33 M407.23,348.43 V407.37 M408.78,348.18 V403.66 M410.33,347.36 V407.98 M411.88,347.52 V403.94 M413.43,348.34 V406.71 M414.98,346.90 V405.76 M416.53,347.68 V404.18 M418.08,346.72 V404.49 M419.63,349.08 V406.12 M421.18,347.85 V403.99 M422.73,349.05 V406.26 M424.28,346.68 V405.15 M425.83,347.67 V403.87 M427.38,348.91 V403.63 M428.93,347.43 V404.52 M430.48,347.06 V406.32 M432.03,347.82 V403.28 M433.58,347.32 V406.28 M435.13,347.08 V405.90 M436.68,348.89 V404.50 M438.23,347.05 V404.02 M439.78,348.85 V402.59 M441.33,347.00 V406.65 M442.88,346.58 V402.00 M444.43,348.69 V406.03 M445.98,348.92 V406.19 M447.53,346.88 V406.13 M449.08,346.48 V404.70 M450.63,347.32 V402.95 M452.18,346.38 V402.61 M453.73,348.75 V401.75 M455.28,346.86 V402.83 M456.83,348.39 V403.13 M458.38,347.50 V402.75 M459.93,346.79 V402.63 M461.48,346.37 V402.78 M463.03,348.20 V400.85 M464.58,346.42 V405.17 M466.13,348.12 V404.98 M467.68,346.92 V405.20 M469.23,346.89 V403.91 M470.78,346.91 V400.27 M472.33,348.50 V403.34 M473.88,346.25 V401.26 M475.43,348.57 V404.78 M476.98,346.80 V402.08 M478.53,348.48 V400.76 M480.08,347.99 V403.88 M481.63,347.65 V401.32 M483.18,347.02 V403.52 M484.73,346.60 V403.29 M486.28,346.26 V399.61 M487.83,346.90 V404.27 M489.38,348.54 V400.61 M490.93,346.30 V401.70 M492.48,347.16 V400.29 M494.03,347.58 V402.41 M495.58,348.14 V402.28 M497.13,348.11 V400.35 M498.68,346.93 V402.49 M500.23,346.60 V399.95 M501.78,348.18 V401.53 M503.33,346.95 V403.52 M504.88,346.53 V402.52 M506.43,348.41 V398.91 M507.98,347.97 V402.52 M509.53,346.01 V399.71 M511.08,346.38 V403.02 M512.63,348.22 V399.94 M514.18,347.00 V399.30 M515.73,348.23 V398.45 M517.28,347.40 V398.93 M518.83,346.20 V398.78 M520.38,347.33 V400.93 M521.93,345.85 V399.23 M523.48,346.27 V399.08" stroke="#5fb3ad" stroke-width="0.6" fill="none"/>
<path d="M241.6,414.6 L253.4,418 L253.4,360" stroke="#2f9b95" stroke-width="0.9" fill="none"/>
<rect x="259.7" y="336.4" width="251" height="4.4" fill="#9d9ad6"/><path d="M510,334 L517.5,338.6 L510,343.2 Z" fill="#9d9ad6"/>
<text x="261.2" y="331.2" font-size="9" fill="#222" text-anchor="start" font-weight="normal" stroke="#222" stroke-width="0.18" textLength="19.2" lengthAdjust="spacingAndGlyphs" >25&#176;C</text>
<text x="483.8" y="331.8" font-size="9" fill="#222" text-anchor="start" font-weight="normal" stroke="#222" stroke-width="0.18" textLength="25.2" lengthAdjust="spacingAndGlyphs" >&#8722;20&#176;C</text>
</svg></body></html>
